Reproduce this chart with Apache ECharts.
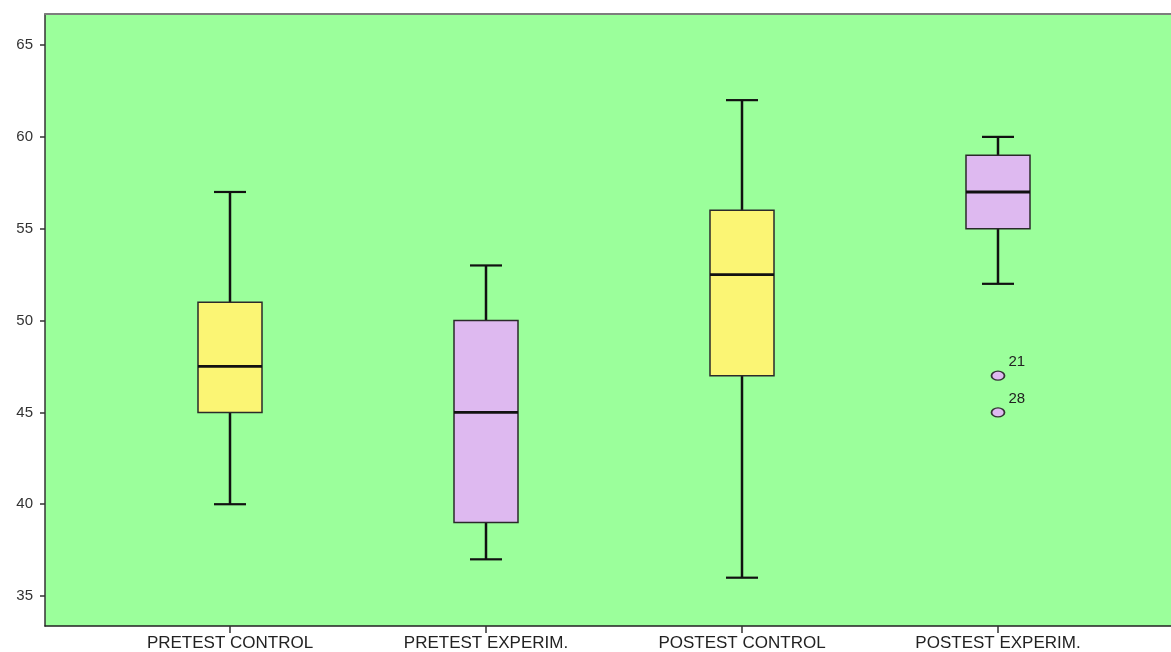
<!DOCTYPE html>
<html>
<head>
<meta charset="utf-8">
<script src="https://cdn.jsdelivr.net/npm/echarts@6/dist/echarts.min.js"></script>
<style>html,body{margin:0;padding:0;background:#fff}#c{width:1171px;height:652px}</style>
</head>
<body>
<div id="c"></div>
<script>
const categories = ['PRETEST CONTROL', 'PRETEST EXPERIM.', 'POSTEST CONTROL', 'POSTEST EXPERIM.'];
const whiskerLow = [40, 37, 36, 52];
const quartile1 = [45, 39, 47, 55];
const medians = [47.5, 45, 52.5, 57];
const quartile3 = [51, 50, 56, 59];
const whiskerHigh = [57, 53, 62, 60];
const groupKind = [0, 1, 0, 1];
const outlierGroup = [4, 4];
const outlierValues = [47, 45];
const outlierIds = ['21', '28'];
const yTicks = [35, 40, 45, 50, 55, 60, 65];

const colors = ['#FBF574', '#DEB9F0'];
const font = 'Arial, "Liberation Sans", sans-serif';

const boxData = categories.map((c, i) => [i + 1, whiskerLow[i], quartile1[i], medians[i], quartile3[i], whiskerHigh[i], groupKind[i]]);
const outlierData = outlierValues.map((v, i) => [outlierGroup[i], v, outlierIds[i]]);

const xMin = 1 - 185 / 256;
const xMax = 4 + 173 / 256;

function renderBox(params, api) {
  const x = api.value(0);
  const band = api.size([1, 0])[0];
  const hw = band * 0.125;
  const cw = band * 0.0625;
  const pLow = api.coord([x, api.value(1)]);
  const pQ1 = api.coord([x, api.value(2)]);
  const pMed = api.coord([x, api.value(3)]);
  const pQ3 = api.coord([x, api.value(4)]);
  const pHigh = api.coord([x, api.value(5)]);
  const fill = colors[api.value(6)];
  const cx = pMed[0];
  const line = (x1, y1, x2, y2, w) => ({
    type: 'line', shape: { x1, y1, x2, y2 },
    style: { stroke: '#111', lineWidth: w }
  });
  return {
    type: 'group',
    children: [
      line(cx, pHigh[1], cx, pQ3[1], 2.5),
      line(cx, pQ1[1], cx, pLow[1], 2.5),
      line(cx - cw, pHigh[1], cx + cw, pHigh[1], 2.2),
      line(cx - cw, pLow[1], cx + cw, pLow[1], 2.2),
      {
        type: 'rect',
        shape: { x: cx - hw, y: pQ3[1], width: hw * 2, height: pQ1[1] - pQ3[1] },
        style: { fill: fill, stroke: '#2a2a2a', lineWidth: 1.5 }
      },
      line(cx - hw, pMed[1], cx + hw, pMed[1], 2.8)
    ]
  };
}

const chart = echarts.init(document.getElementById('c'), null, { renderer: 'canvas' });
chart.setOption({
  animation: false,
  backgroundColor: '#ffffff',
  grid: {
    left: 45, right: 0, top: 14, bottom: 26,
    show: true, backgroundColor: '#9BFF9B',
    borderWidth: 0
  },
  xAxis: [
    {
      type: 'value',
      min: xMin,
      max: xMax,
      axisLine: { show: true, onZero: false, lineStyle: { color: '#222', width: 1.5 } },
      axisTick: { show: true, customValues: [1, 2, 3, 4], length: 7, lineStyle: { color: '#333', width: 1.5 } },
      axisLabel: {
        customValues: [1, 2, 3, 4],
        formatter: v => categories[Math.round(v) - 1] || '',
        fontFamily: font, fontSize: 17, color: '#222', margin: 9
      },
      splitLine: { show: false }
    },
    {
      type: 'value',
      position: 'top',
      min: xMin,
      max: xMax,
      axisLine: { show: true, onZero: false, lineStyle: { color: '#7d7d7d', width: 2 } },
      axisTick: { show: false },
      axisLabel: { show: false },
      splitLine: { show: false }
    }
  ],
  yAxis: {
    type: 'value',
    min: 33.37,
    max: 66.69,
    axisLine: { show: true, lineStyle: { color: '#333', width: 1.5 } },
    axisTick: { show: true, customValues: yTicks, length: 5, lineStyle: { color: '#333', width: 1.5 } },
    axisLabel: {
      customValues: yTicks,
      fontFamily: font, fontSize: 15, color: '#333', margin: 12
    },
    splitLine: { show: false }
  },
  series: [
    {
      type: 'custom',
      renderItem: renderBox,
      encode: { x: 0, y: [1, 2, 3, 4, 5] },
      data: boxData
    },
    {
      type: 'scatter',
      symbol: 'circle',
      symbolSize: [13, 9],
      itemStyle: { color: '#DEB9F0', borderColor: '#333', borderWidth: 1.5, opacity: 1 },
      label: {
        show: true,
        position: 'right',
        offset: [-2, -14],
        formatter: p => p.value[2],
        fontFamily: font, fontSize: 15, color: '#222'
      },
      data: outlierData,
      z: 5
    }
  ]
});
</script>
</body>
</html>
